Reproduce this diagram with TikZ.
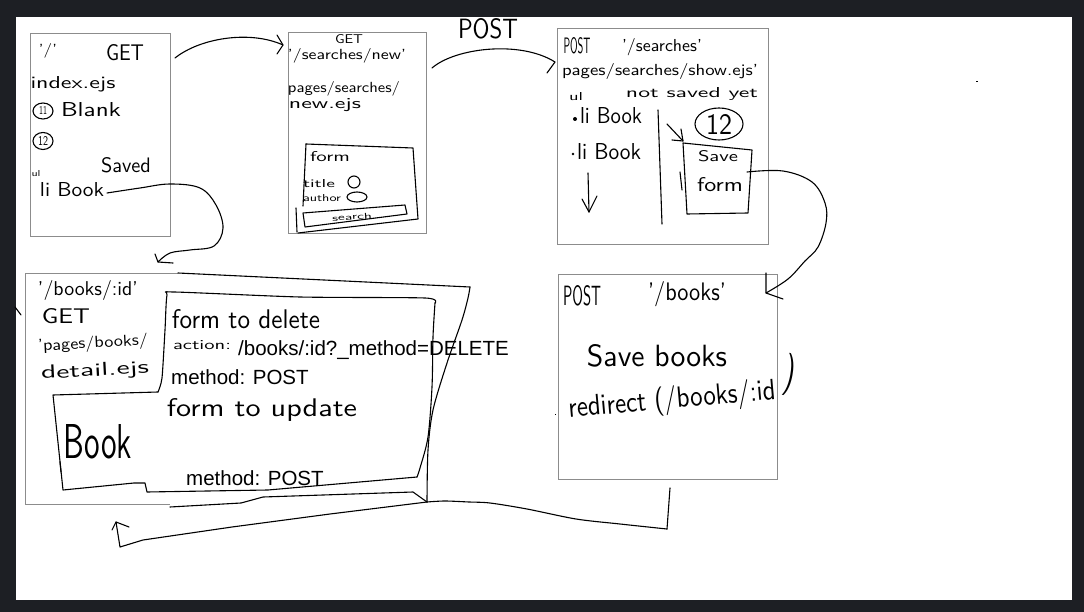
\documentclass[tikz,border=0pt]{standalone}
\usepackage{fontspec}
\usepackage{graphicx}
\usetikzlibrary{shapes.geometric}
\newfontfamily\printfont{Liberation Sans}
\definecolor{bgdark}{RGB}{29,31,36}
\definecolor{boxgray}{RGB}{140,140,140}
\newcommand{\hw}[3]{\resizebox{#1pt}{#2pt}{#3}}
\tikzset{
  gbox/.style={draw=boxgray, line width=0.9pt, inner sep=0pt},
  gline/.style={draw=boxgray, line width=0.9pt},
  pen/.style={draw=black, line width=1.1pt, line join=round, line cap=round},
  hand/.style={inner sep=0pt, font=\sffamily, text=black},
  printed/.style={inner sep=0pt, anchor=base west, text=black,
    font=\printfont\fontsize{20.5}{24}\selectfont},
}
\begin{document}
\begin{tikzpicture}[x=1pt,y=-1pt]
\fill[bgdark] (0,0) rectangle (1084,612);
\fill[white] (16,17) rectangle (1072,600);
\useasboundingbox (0,0) rectangle (1084,612);

% ---------- Box A ----------
\node[gbox, minimum width=140pt, minimum height=203pt] (A) at (100,134.5) {};
\node[hand] (a1) at (48,51) {\hw{18}{11}{'/'}};
\node[hand] (a2) at (125,53) {\hw{38}{16}{GET}};
\node[hand] (a3) at (73,84) {\hw{85}{12}{index.ejs}};
\node[pen, ellipse, draw, inner sep=0pt, minimum width=20pt, minimum height=16pt] (a4c) at (43,111) {};
\node[hand] (a4) at (43,111) {\hw{8}{8}{11}};
\node[hand] (a5) at (91,110) {\hw{60}{14}{Blank}};
\node[pen, ellipse, draw, inner sep=0pt, minimum width=20pt, minimum height=17pt] (a6c) at (43,141) {};
\node[hand] (a6) at (43,141) {\hw{10}{9}{12}};
\node[hand] (a7) at (36,174) {\hw{9}{6}{ul}};
\node[hand] (a8) at (126,165) {\hw{50}{15}{Saved}};
\node[hand] (a9) at (72,190) {\hw{64}{14}{li Book}};

% ---------- Box B ----------
\node[gbox, minimum width=138pt, minimum height=201pt] (B) at (357,132.5) {};
\node[hand] (b1) at (349,39.5) {\hw{28}{9}{GET}};
\node[hand] (b2) at (347,56) {\hw{118}{11}{'/searches/new'}};
\node[hand] (b3) at (344,89) {\hw{112}{11}{pages/searches/}};
\node[hand] (b4) at (325,105) {\hw{72}{10}{new.ejs}};
\draw[pen] (306,144) -- (413,148) -- (418,219) -- (298,233);
\draw[pen] (306,144) -- (303,206);
\draw[pen] (296,208) -- (297,232);
\draw[pen] (303,213) -- (405,205) -- (407,214) -- (305,227) -- cycle;
\node[hand] (b5) at (330,157) {\hw{40}{10}{form}};
\node[hand] (b6) at (319,184) {\hw{32}{8}{title}};
\draw[pen] (354,182) circle [radius=6pt];
\node[hand] (b7) at (322,198) {\hw{38}{7}{author}};
\draw[pen] (357,197) ellipse [x radius=10pt, y radius=5pt];
\node[hand, rotate=4] (b8) at (352,217) {\hw{40}{6}{search}};

% ---------- POST label ----------
\node[hand] (pl) at (488,29) {\hw{60}{20}{POST}};

% ---------- Box C ----------
\node[gbox, minimum width=211pt, minimum height=216pt] (C) at (662.5,136) {};
\node[hand] (c1) at (577,46) {\hw{27}{16}{POST}};
\node[hand] (c2) at (662,47) {\hw{80}{13}{'/searches'}};
\node[hand] (c3) at (660,72) {\hw{196}{12}{pages/searches/show.ejs'}};
\node[hand] (c4) at (576,97) {\hw{14}{8}{ul}};
\node[hand] (c5) at (692,94) {\hw{132}{10}{not saved yet}};
\fill (575,119) circle [radius=2pt];
\node[hand] (c6) at (611,116) {\hw{62}{16}{li Book}};
\fill (573,154) circle [radius=1.3pt];
\node[hand] (c7) at (609,152) {\hw{64}{16}{li Book}};
\draw[pen] (588,173) -- (589,212);
\draw[pen] (582,199) -- (589,212) -- (597,196);
\draw[pen] (658,110) -- (662,224);
\draw[pen] (667,124) -- (683,141);
\draw[pen] (681,129) -- (683,141) -- (672,140);
\node[pen, ellipse, draw, inner sep=0pt, minimum width=48pt, minimum height=32pt] (c12c) at (719,124) {};
\node[hand] (c12) at (719,125) {\hw{26}{20}{12}};
\draw[pen] (683,143) -- (752,150) -- (748,213) -- (687,214) -- cycle;
\draw[pen] (680,172) -- (682,190);
\node[hand] (c8) at (718,156) {\hw{40}{11}{Save}};
\node[hand] (c9) at (720,185) {\hw{46}{14}{form}};

% ---------- Box E ----------
\node[gbox, minimum width=219pt, minimum height=205pt] (E) at (667.5,376.5) {};
\node[hand] (e1) at (582,296) {\hw{38}{20}{POST}};
\node[hand] (e2) at (687,294) {\hw{78}{19}{'/books'}};
\node[hand] (e3) at (657,356) {\hw{140}{22}{Save books}};
\node[hand, rotate=5] (e4) at (672,401) {\hw{208}{22}{redirect (/books/:id}};
\node[hand, rotate=-10] (e5) at (790,375) {\hw{11}{32}{)}};

% ---------- Box D ----------
\node[inner sep=0pt, minimum width=153pt, minimum height=231pt] (D) at (101.5,388.5) {};
\draw[gline] (178,273) -- (25,273) -- (25,504) -- (170,504);
\draw[pen] (178,273) -- (470,287);
\draw[pen] plot[smooth, tension=0.5] coordinates {(470,287) (468,298) (462,320) (447,363) (433,410) (428,450) (427,502)};
\draw[pen] (427,502) -- (413,492) -- (263,497) -- (241,503) -- (170,507);
\draw[pen] plot[smooth, tension=0.4] coordinates {(158,392) (162,378) (165,330) (167,295) (174,292) (300,297) (425,298) (435,303)};
\draw[pen] plot[smooth, tension=0.5] coordinates {(435,303) (433,337) (432,387) (428,437) (420,468) (417,477)};
\draw[pen] (417,477) -- (268,490) -- (147,492) -- (145,483) -- (134,483) -- (63,490) -- (53,395) -- (158,392);
\draw[pen] (15,307) -- (21,315);
\draw[pen] (60,462) -- (61,472);
\node[hand] (d1) at (88,290) {\hw{100}{15}{'/books/:id'}};
\node[hand] (d2) at (66,316) {\hw{48}{15}{GET}};
\node[hand, rotate=3] (d3) at (93,344) {\hw{110}{12}{'pages/books/}};
\node[hand, rotate=3] (d4) at (95,371.5) {\hw{108}{13}{detail.ejs}};
\node[hand] (d5) at (98,442) {\hw{68}{34}{Book}};
\node[hand] (d6) at (246,319) {\hw{148}{19}{form to delete}};
\node[hand] (d7) at (202,345) {\hw{58}{9}{action:}};
\node[hand] (d8) at (262,410) {\hw{190}{18}{form to update}};
\node[printed] (p1) at (238,355.5) {/books/:id?\_method=DELETE};
\node[printed] (p2) at (171,384.5) {method: POST};
\node[printed] (p3) at (186,485.5) {method: POST};

% ---------- connectors ----------
% A -> B
\coordinate (ab0) at (175,58);
\coordinate (ab1) at (283,45);
\draw[pen] (ab0) .. controls (200,38) and (250,30) .. (ab1);
\draw[pen] (277,35) -- (ab1) -- (277,54);
% A (li Book) -> D
\coordinate (ad0) at (107,193);
\coordinate (ad1) at (158,262);
\draw[pen] plot[smooth, tension=0.6] coordinates {(ad0) (140,188) (170,184) (200,188) (216,205) (223,228) (214,246) (190,250) (170,253) (ad1)};
\draw[pen] (155,254) -- (ad1) -- (173,263);
% B -> C (POST)
\coordinate (bc0) at (432,68);
\coordinate (bc1) at (555,62);
\draw[pen] (bc0) .. controls (455,48) and (520,40) .. (bc1);
\draw[pen] (547,73) -- (bc1);
% C (Save form) -> E
\coordinate (ce0) at (747,172);
\coordinate (ce1) at (766,293);
\draw[pen] plot[smooth, tension=0.6] coordinates {(ce0) (783,171) (812,182) (825,203) (826,223) (818,247) (805,261) (788,279) (ce1)};
\draw[pen] (766,273) -- (ce1) -- (783,299);
% E -> D (return)
\coordinate (ed0) at (670,488);
\coordinate (ed1) at (116,522);
\draw[pen] (ed0) -- (667,529);
\draw[pen] plot[smooth, tension=0.5] coordinates {(667,529) (620,524) (576,519) (527,509) (490,503) (469,502) (445,501) (427,502)};
\draw[pen] (427,502) -- (330,514) -- (232,527) -- (143,540) -- (120,547) -- (ed1);
\draw[pen] (112,530) -- (ed1) -- (129,527);

% stray dots
\fill (976,81) rectangle (977.5,82.5);
\fill (555,414) rectangle (556.2,415.2);
\end{tikzpicture}
\end{document}
